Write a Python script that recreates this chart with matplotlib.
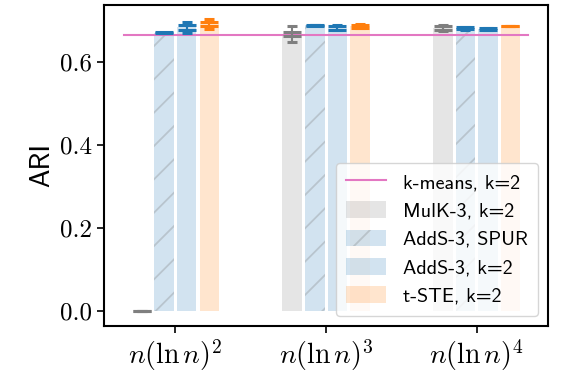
import matplotlib
matplotlib.use("Agg")
import matplotlib.pyplot as plt
import numpy as np

plt.rcParams['mathtext.fontset'] = 'cm'
plt.rcParams['axes.unicode_minus'] = False
plt.rcParams['hatch.linewidth'] = 1.3

# data
groups = [r'$n(\ln n)^2$', r'$n(\ln n)^3$', r'$n(\ln n)^4$']
kmeans = 0.665

mulk = [0.0, 0.667, 0.682]
mulk_in = [0.0, 0.005, 0.004]
mulk_out = [0.0, 0.019, 0.008]

spur = [0.670, 0.688, 0.681]
spur_in = [0.001, 0.001, 0.0025]
spur_out = [0.0, 0.0, 0.003]

adds = [0.683, 0.682, 0.680]
adds_in = [0.005, 0.005, 0.002]
adds_out = [0.0128, 0.006, 0.002]

tste = [0.691, 0.686, 0.687]
tste_in = [0.0043, 0.004, 0.0]
tste_out = [0.0128, 0.005, 0.0]

gray = '#7f7f7f'
blue = '#1f77b4'
orange = '#ff7f0e'
pink = '#e377c2'

def rgba(c, a):
    r, g, b = matplotlib.colors.to_rgb(c)
    return (r, g, b, a)

fig = plt.figure(figsize=(5.7, 3.89), dpi=100)
ax = fig.add_axes([0.1825, 0.1627, 0.7789, 0.8243])

x = np.arange(len(groups))
step = 0.15
w = 0.13

series = [
    (mulk, mulk_in, mulk_out, gray, None, 'MulK-3, k=2'),
    (spur, spur_in, spur_out, blue, '/', 'AddS-3, SPUR'),
    (adds, adds_in, adds_out, blue, None, 'AddS-3, k=2'),
    (tste, tste_in, tste_out, orange, None, 't-STE, k=2'),
]

line, = ax.plot([-0.34, 2.34], [kmeans, kmeans], color=pink, lw=1.5,
                label='k-means, k=2')
handles = [line]
for i, (vals, e_in, e_out, c, hatch, lab) in enumerate(series):
    pos = x + (i - 1.5) * step
    if hatch:
        b = ax.bar(pos, vals, w, facecolor=rgba(c, 0.2),
                   edgecolor=rgba(gray, 0.3), linewidth=0, hatch=hatch,
                   label=lab)
    else:
        b = ax.bar(pos, vals, w, color=rgba(c, 0.2), linewidth=0, label=lab)
    handles.append(b)
    ax.errorbar(pos, vals, yerr=e_out, fmt='none', ecolor=c, elinewidth=1.5,
                capsize=3.5, capthick=2.2)
    ax.errorbar(pos, vals, yerr=e_in, fmt='none', ecolor=c, elinewidth=1.5,
                capsize=6.5, capthick=2.2)

ax.set_xlim(-0.474, 2.474)
ax.set_ylim(-0.036, 0.737)
ax.set_xticks(x)
ax.set_xticklabels(groups, fontsize=20)
ax.set_yticks([0.0, 0.2, 0.4, 0.6])
ax.set_yticklabels(['0.0', '0.2', '0.4', '0.6'], fontsize=18, family='cmr10')
ax.set_ylabel('ARI', fontsize=20, family=['cmss10', 'DejaVu Sans'])
ax.tick_params(length=5, width=1.2)
for s in ax.spines.values():
    s.set_linewidth(1.5)

ax.legend(handles=handles, loc='lower right',
          prop={'family': ['cmss10', 'DejaVu Sans'], 'size': 14.5},
          labelspacing=0.45, handlelength=2.0, handleheight=0.9,
          handletextpad=0.85, borderpad=0.5, borderaxespad=0.5)

fig.savefig('out.png', dpi=100)
